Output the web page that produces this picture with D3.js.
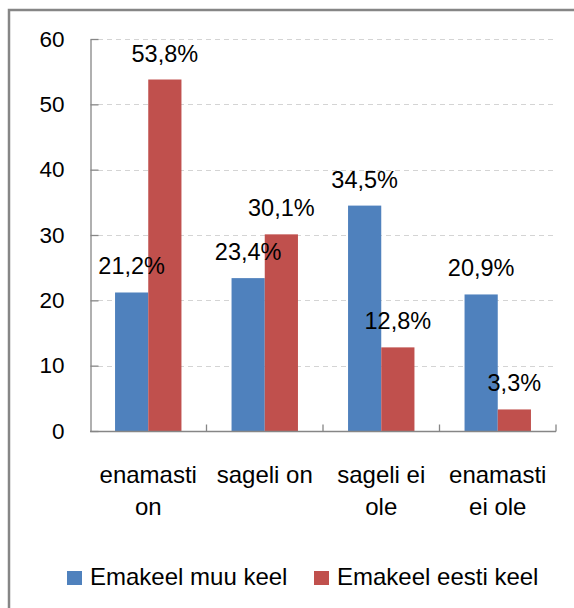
<!DOCTYPE html>
<html>
<head>
<meta charset="utf-8">
<script src="https://cdn.jsdelivr.net/npm/d3@7"></script>
<style>
  body { margin: 0; background: #fff; }
  svg { display: block; }
  text { font-family: "Liberation Sans", Arial, sans-serif; fill: #000; }
</style>
</head>
<body>
<svg></svg>
<script>
// data
var categories = ['enamasti on', 'sageli on', 'sageli ei ole', 'enamasti ei ole']
var catLines = [['enamasti', 'on'], ['sageli on'], ['sageli ei', 'ole'], ['enamasti', 'ei ole']]
var seriesNames = ['Emakeel muu keel', 'Emakeel eesti keel']
var muuKeel = [21.2, 23.4, 34.5, 20.9]
var eestiKeel = [53.8, 30.1, 12.8, 3.3]
var yTicks = [0, 10, 20, 30, 40, 50, 60]
var colors = ['#4F81BD', '#C0504D']

var screen = {width: 574, height: 608}
var plotBox = {left: 90, right: 556, top: 39, bottom: 431}

var svg = d3.select('svg')
  .attr('width', screen.width)
  .attr('height', screen.height)

// chart frame (runs off the right and bottom of the picture)
svg.append('rect')
  .attr('x', 9).attr('y', 10)
  .attr('width', 700).attr('height', 700)
  .attr('fill', 'none')
  .attr('stroke', '#868686')
  .attr('stroke-width', 2.5)

var yScale = d3.scaleLinear()
  .domain([0, 60])
  .range([plotBox.bottom, plotBox.top])

var x0 = d3.scaleBand()
  .domain(categories)
  .range([plotBox.left, plotBox.right])
  .paddingInner(0.43)
  .paddingOuter(0.215)

var x1 = d3.scaleBand()
  .domain(seriesNames)
  .range([0, x0.bandwidth()])

// dashed gridlines
svg.append('g')
  .selectAll('line')
  .data(yTicks.filter(function(d){ return d > 0 }))
  .enter()
  .append('line')
  .attr('x1', plotBox.left + 8)
  .attr('x2', 553)
  .attr('y1', function(d){ return Math.round(yScale(d)) + 0.5 })
  .attr('y2', function(d){ return Math.round(yScale(d)) + 0.5 })
  .attr('stroke', '#d4d4d4')
  .attr('stroke-width', 1.2)
  .attr('stroke-dasharray', '5,4')

// y axis, ticks pointing inside
var yAxis = svg.append('g')
  .attr('transform', 'translate(' + (plotBox.left + 0.5) + ',0)')
  .call(d3.axisLeft(yScale).tickValues(yTicks).tickSizeInner(-8).tickSizeOuter(0).tickPadding(26))
yAxis.select('.domain').attr('stroke', '#868686').attr('stroke-width', 1.3)
yAxis.selectAll('.tick line').attr('stroke', '#868686').attr('stroke-width', 1.3)
yAxis.selectAll('.tick text')
  .attr('font-size', '22.5px')
  .attr('font-family', '"Liberation Sans", Arial, sans-serif')
  .attr('fill', '#000')

// bars first, labels after so they sit on top
var series = [muuKeel, eestiKeel]
series.forEach(function(vals, si){
  svg.append('g')
    .selectAll('rect')
    .data(vals)
    .enter()
    .append('rect')
    .attr('x', function(d, i){ return x0(categories[i]) + x1(seriesNames[si]) })
    .attr('y', function(d){ return yScale(d) })
    .attr('width', x1.bandwidth())
    .attr('height', function(d){ return yScale(0) - yScale(d) })
    .attr('fill', colors[si])
})

series.forEach(function(vals, si){
  svg.append('g')
    .selectAll('text')
    .data(vals)
    .enter()
    .append('text')
    .attr('x', function(d, i){ return x0(categories[i]) + x1(seriesNames[si]) + x1.bandwidth() / 2 })
    .attr('y', function(d){ return yScale(d) - 18 })
    .attr('text-anchor', 'middle')
    .attr('font-size', '23.5px')
    .text(function(d){ return d.toFixed(1).replace('.', ',') + '%' })
})

// x axis line with ticks between categories
var xAxisY = plotBox.bottom + 0.5
svg.append('line')
  .attr('x1', plotBox.left).attr('x2', plotBox.right)
  .attr('y1', xAxisY).attr('y2', xAxisY)
  .attr('stroke', '#868686').attr('stroke-width', 1.3)

svg.append('g')
  .selectAll('line')
  .data(categories)
  .enter()
  .append('line')
  .attr('x1', function(d, i){ return plotBox.left + (i + 1) * x0.step() })
  .attr('x2', function(d, i){ return plotBox.left + (i + 1) * x0.step() })
  .attr('y1', xAxisY)
  .attr('y2', xAxisY - 7)
  .attr('stroke', '#868686').attr('stroke-width', 1.3)

// category labels
var catText = svg.append('g')
  .selectAll('text')
  .data(catLines)
  .enter()
  .append('text')
  .attr('text-anchor', 'middle')
  .attr('font-size', '24px')
catText.each(function(lines, i){
  var t = d3.select(this)
  lines.forEach(function(l, li){
    t.append('tspan')
      .attr('x', x0(categories[i]) + x0.bandwidth() / 2)
      .attr('y', 483 + li * 32)
      .text(l)
  })
})

// legend
var legendX = [67, 314]
seriesNames.forEach(function(name, i){
  svg.append('rect')
    .attr('x', legendX[i]).attr('y', 571)
    .attr('width', 15).attr('height', 14)
    .attr('fill', colors[i])
  svg.append('text')
    .attr('x', legendX[i] + 23)
    .attr('y', 585)
    .attr('font-size', '24px')
    .text(name)
})
</script>
</body>
</html>
